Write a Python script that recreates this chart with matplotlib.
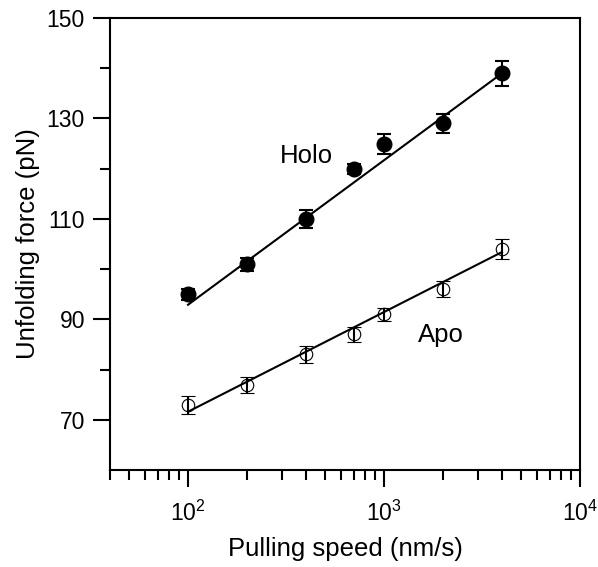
import matplotlib
matplotlib.use("Agg")
import matplotlib.pyplot as plt
from matplotlib.ticker import FixedLocator, NullFormatter, LogLocator

plt.rcParams['font.family'] = ['Liberation Sans', 'DejaVu Sans']
plt.rcParams['mathtext.fontset'] = 'custom'
plt.rcParams['mathtext.rm'] = 'Liberation Sans'
plt.rcParams['mathtext.it'] = 'Liberation Sans'
plt.rcParams['mathtext.default'] = 'regular'

speed = [100, 200, 400, 700, 1000, 2000, 4000]
holo_force = [95, 101, 110, 120, 125, 129, 139]
holo_err = [1.1, 1.3, 1.8, 1.0, 2.0, 1.8, 2.5]
apo_force = [73, 77, 83, 87, 91, 96, 104]
apo_err = [1.8, 1.6, 1.7, 1.5, 1.3, 1.6, 2.0]

fit_speed = [100, 4000]
holo_fit = [92.9, 139.0]
apo_fit = [71.6, 103.4]

fig = plt.figure(figsize=(5.98, 5.67), dpi=100)
ax = fig.add_axes([110/598, 1-470/567, 470/598, 452/567])

ax.plot(fit_speed, holo_fit, color='black', lw=1.5, zorder=2)
ax.plot(fit_speed, apo_fit, color='black', lw=1.5, zorder=2)

ax.errorbar(speed, holo_force, yerr=holo_err, fmt='o', ms=10.5, mfc='black', mec='black',
            ecolor='black', elinewidth=1.5, capsize=5, capthick=1.5, zorder=3)
ax.errorbar(speed, apo_force, yerr=apo_err, fmt='o', ms=9, mfc='none', mec='black', mew=0.8,
            ecolor='black', elinewidth=1.5, capsize=5, capthick=1.5, zorder=3)

ax.set_xscale('log')
ax.set_xlim(40, 1e4)
ax.set_ylim(60, 150)

ax.xaxis.set_major_locator(FixedLocator([1e2, 1e3, 1e4]))
ax.set_xticklabels(['$10^2$', '$10^3$', '$10^4$'])
ax.xaxis.set_minor_locator(LogLocator(base=10, subs=[2, 3, 4, 5, 6, 7, 8, 9]))
ax.xaxis.set_minor_formatter(NullFormatter())

ax.set_yticks([70, 90, 110, 130, 150])
ax.set_yticks([80, 100, 120, 140], minor=True)

ax.tick_params(which='major', length=12, width=1.5, labelsize=16.5, direction='out', pad=6)
ax.tick_params(which='minor', length=7, width=1.5, direction='out')
ax.tick_params(top=False, right=False, which='both')
ax.tick_params(axis='x', which='major', pad=10)

for s in ax.spines.values():
    s.set_linewidth(1.5)

ax.set_xlabel('Pulling speed (nm/s)', fontsize=18.5, labelpad=8)
ax.set_ylabel('Unfolding force (pN)', fontsize=18.5, labelpad=5)

ax.text(296, 122.5, 'Holo', fontsize=18.5, ha='left', va='center')
ax.text(1493, 86.9, 'Apo', fontsize=18.5, ha='left', va='center')

fig.savefig('out.png', dpi=100)
